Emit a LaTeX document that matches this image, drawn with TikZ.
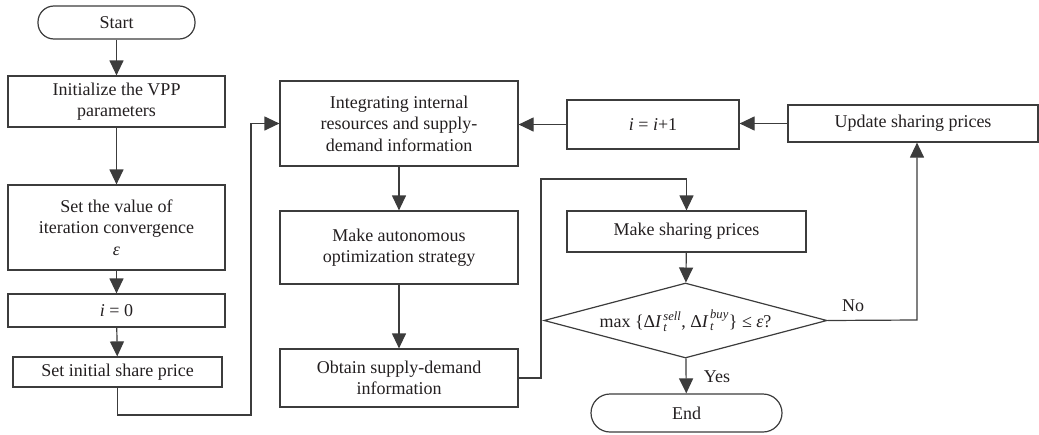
\documentclass[tikz,border=0pt]{standalone}
\usepackage{amsmath}
\usepackage{fontspec}
\setmainfont{Liberation Serif}
\newfontfamily\serf{Liberation Serif}
\usetikzlibrary{arrows.meta,shapes.geometric}
\definecolor{ln}{HTML}{3C3C3C}
\definecolor{tx}{HTML}{231F20}
\newcommand\ssc[2]{\kern1.5pt$^{\text{\serf\itshape #1}}_{\text{\serf\itshape #2}}$}
\begin{document}
\begin{tikzpicture}[x=1pt,y=-1pt,
  every node/.style={font=\serf\fontsize{18}{21.5}\selectfont, text=tx, align=center, inner sep=0pt},
  box/.style={draw=ln, line width=1.2pt, rectangle},
  term/.style={draw=ln, line width=1.2pt, rectangle, rounded corners=16pt},
  dec/.style={draw=ln, line width=1.2pt, diamond, aspect=3.77},
  conn/.style={draw=ln, line width=1.2pt, -{Triangle[width=14pt,length=15pt]}}]
\useasboundingbox (0,0) rectangle (1039,434);

\node[term, minimum width=157pt, minimum height=33pt] (start) at (116.5,22.5) {Start};
\node[box, minimum width=217pt, minimum height=51pt] (init) at (116.5,101.5) {Initialize the VPP\\parameters};
\node[box, minimum width=217pt, minimum height=85pt] (setval) at (116.5,227.5) {Set the value of\\iteration convergence\\\textit{ε}};
\node[box, minimum width=217pt, minimum height=33pt] (izero) at (116.5,310.5) {\textit{i} = 0};
\node[box, minimum width=209pt, minimum height=30pt] (setinit) at (117.5,372) {Set initial share price};

\node[box, minimum width=238pt, minimum height=85pt] (integ) at (399,123.5) {Integrating internal\\resources and supply-\\demand information};
\node[box, minimum width=238pt, minimum height=73pt] (auto) at (399,247.5) {Make autonomous\\optimization strategy};
\node[box, minimum width=238pt, minimum height=58pt] (obtain) at (399,378) {Obtain supply-demand\\information};

\node[box, minimum width=172pt, minimum height=49pt] (inc) at (653,124.5) {\textit{i} = \textit{i}+1};
\node[box, minimum width=250pt, minimum height=37pt] (update) at (913,123.5) {Update sharing prices};

\node[box, minimum width=239pt, minimum height=41pt] (share) at (686.5,231.5) {Make sharing prices};
\node[dec, minimum width=283pt, minimum height=75pt] (dia) at (685.5,320.5) {max \{Δ\textit{I}\ssc{sell}{t}, Δ\textit{I}\ssc{buy}{t}\} ≤ \textit{ε}?};
\node[term, minimum width=191pt, minimum height=38pt, rounded corners=19pt] (stop) at (686.5,413) {End};

\node (nolab) at (853,306) {No};
\node (yeslab) at (717,377) {Yes};

\coordinate (c1) at (251,415);
\coordinate (c2) at (541,179);
\coordinate (c3) at (917,320);

\draw[conn] (start) -- (init);
\draw[conn] (init) -- (setval);
\draw[conn] (setval) -- (izero);
\draw[conn] (izero) -- (setinit);
\draw[conn] (setinit.south) |- (c1) |- (integ.west);
\draw[conn] (integ) -- (auto);
\draw[conn] (auto) -- (obtain);
\draw[conn] (obtain.east) -| (c2) -| (share.north);
\draw[conn] (share) -- (dia);
\draw[conn] (dia) -- (stop);
\draw[conn] (dia.east) -- (c3) -- (c3 |- update.south);
\draw[conn] (update.west) -- (update.west -| inc.east);
\draw[conn] (inc.west) -- (inc.west -| integ.east);
\end{tikzpicture}
\end{document}
